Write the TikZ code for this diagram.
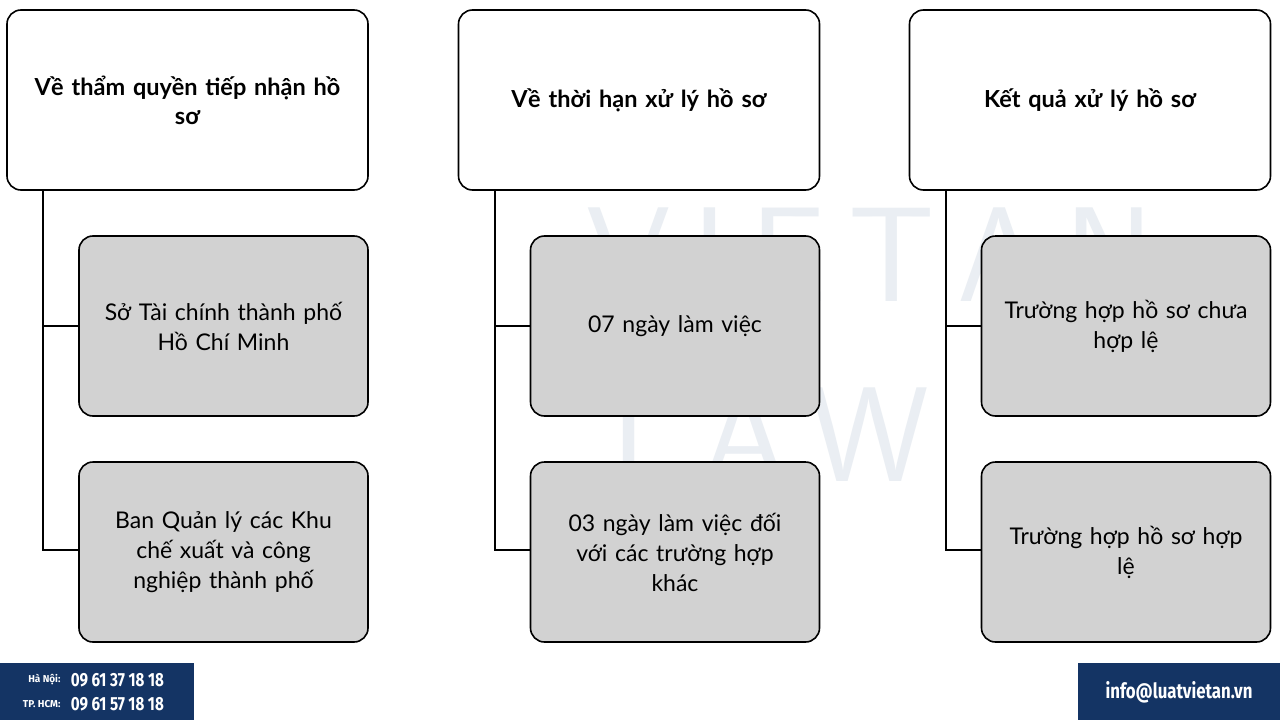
\documentclass[tikz,border=0pt]{standalone}
\usepackage{fontspec}
\setmainfont{Lato}
\newfontfamily\cond{Fira Sans}
\begin{document}
\begin{tikzpicture}[x=1pt,y=-1pt,
 box/.style={draw=black,line width=1.6pt,rounded corners=14pt,align=center,inner sep=0pt},
 top/.style={box,fill=white,font=\fontsize{23.5}{29}\selectfont\bfseries,text width=350pt,minimum width=361pt,minimum height=180pt},
 sub/.style={box,fill=gray!35,font=\fontsize{23}{30}\selectfont,text width=280pt,minimum width=289pt,minimum height=180pt},
 conn/.style={line width=1.3pt},
 wm/.style={font=\fontsize{135}{135}\selectfont\sffamily, text={rgb,255:red,234;green,238;blue,243}},
 navy/.style={fill={rgb,255:red,20;green,52;blue,100},draw=none}]
\useasboundingbox (0,0) rectangle (1280,720);
\fill[white] (0,0) rectangle (1280,720);
\node[wm] (wm1) at (870,255) {V\,I\,E\,T\,A\,N};
\node[wm] (wm2) at (770,435) {L\,A\,W};
% connectors
\draw[conn] (43,190) -- (43,550) -- (79,550); \draw[conn] (43,326) -- (79,326);
\draw[conn] (495,190) -- (495,550) -- (531,550); \draw[conn] (495,326) -- (531,326);
\draw[conn] (946,190) -- (946,550) -- (982,550); \draw[conn] (946,326) -- (982,326);
% column 1
\node[top] (t1) at (187.5,100) {Về thẩm quyền tiếp nhận hồ\\sơ};
\node[sub] (a1) at (223.5,326) {Sở Tài chính thành phố\\Hồ Chí Minh};
\node[sub] (a2) at (223.5,552) {Ban Quản lý các Khu\\chế xuất và công\\nghiệp thành phố};
% column 2
\node[top] (t2) at (639,100) {Về thời hạn xử lý hồ sơ};
\node[sub] (b1) at (675,326) {07 ngày làm việc};
\node[sub] (b2) at (675,552) {03 ngày làm việc đối\\với các trường hợp\\khác};
% column 3
\node[top] (t3) at (1090,100) {Kết quả xử lý hồ sơ};
\node[sub] (c1) at (1126,326) {Trường hợp hồ sơ chưa\\hợp lệ};
\node[sub] (c2) at (1126,552) {Trường hợp hồ sơ hợp\\lệ};
% footer
\fill[navy] (0,663) rectangle (194,720);
\node[text=white,font=\cond\bfseries\fontsize{10}{12}\selectfont,anchor=east] (h1) at (64,680) {Hà Nội:};
\node[text=white,font=\cond\bfseries\fontsize{10}{12}\selectfont,anchor=east] (h2) at (64,704) {TP. HCM:};
\node[text=white,font=\cond\bfseries\fontsize{19}{20}\selectfont,anchor=west,xscale=0.8] (p1) at (68,680) {09 61 37 18 18};
\node[text=white,font=\cond\bfseries\fontsize{19}{20}\selectfont,anchor=west,xscale=0.8] (p2) at (68,704) {09 61 57 18 18};
\fill[navy] (1078,663) rectangle (1280,720);
\node[text=white,font=\cond\bfseries\fontsize{21}{22}\selectfont,xscale=0.8] (em) at (1179,692) {info@luatvietan.vn};
\end{tikzpicture}
\end{document}
